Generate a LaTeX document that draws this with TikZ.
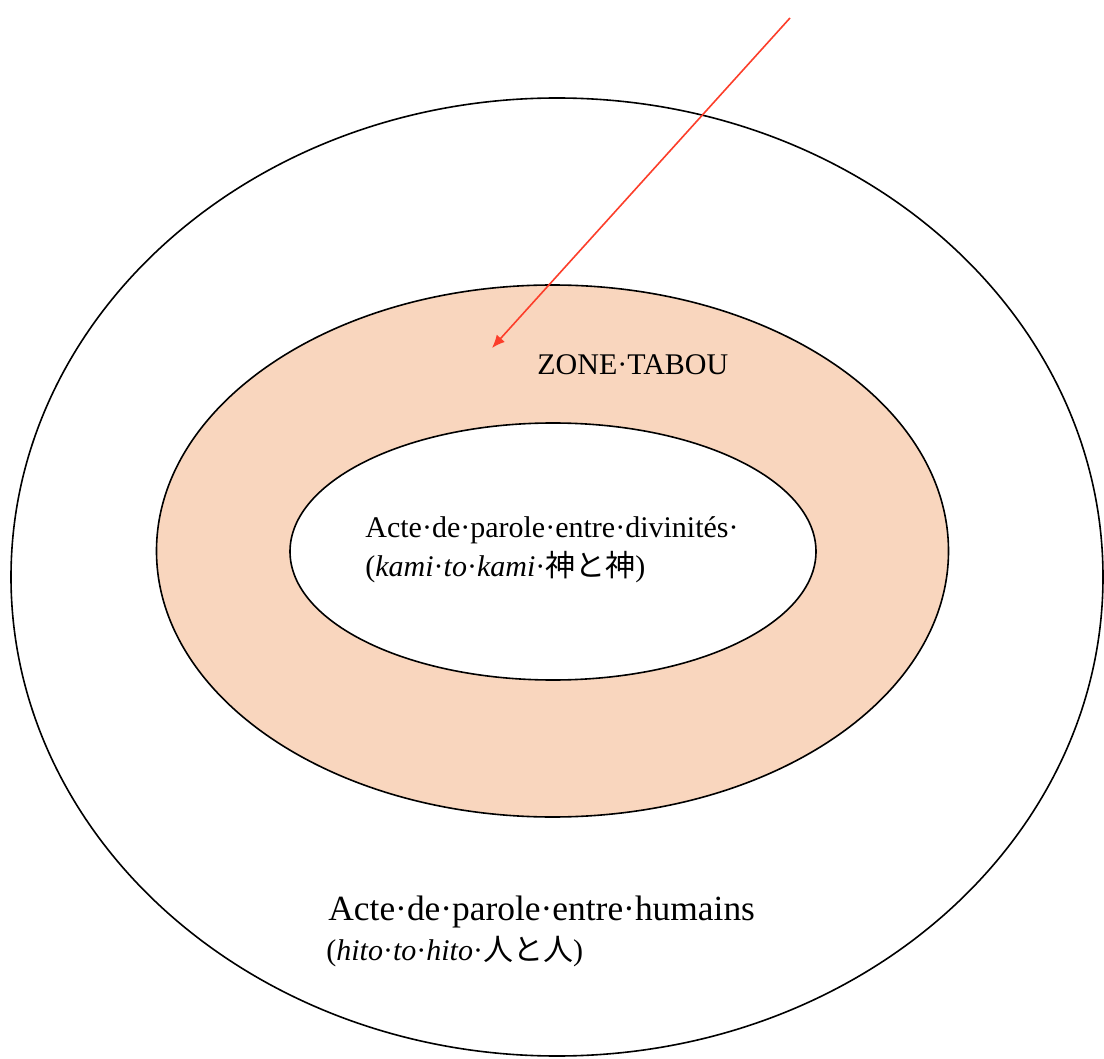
\documentclass[tikz,border=0pt]{standalone}
\usepackage{fontspec}
\setmainfont{Liberation Serif}
\newfontfamily\jpfont{Noto Sans CJK JP}
\usepackage{tikz}
\usetikzlibrary{arrows.meta,shapes.geometric}
\definecolor{taboufill}{RGB}{249,214,190}
\definecolor{arrowred}{RGB}{252,62,42}

\begin{document}
\begin{tikzpicture}[x=0.5pt,y=-0.5pt,>={Latex[length=6.5pt,width=5.5pt]},
  ring/.style={draw,ellipse,line width=0.8pt,inner sep=0pt},
  lbl/.style={anchor=base west,inner sep=0pt,font=\fontsize{15}{18}\selectfont}]
  \useasboundingbox (0,0) rectangle (1104,1059);
  % the three zones
  \node[ring,fill=white,minimum width=546pt,minimum height=479pt] (humains) at (557,577) {};
  \node[ring,fill=taboufill,minimum width=396pt,minimum height=266pt] (tabou) at (552.5,551) {};
  \node[ring,fill=white,minimum width=263pt,minimum height=128.5pt] (divins) at (553,551.5) {};
  % texts
  \node[lbl] (zone) at (537,375) {ZONE·TABOU};
  \node[lbl] (divinsA) at (365,538) {Acte·de·parole·entre·divinités·};
  \node[lbl] (divinsB) at (365,576) {(\textit{kami}·\textit{to}·\textit{kami}·{\jpfont 神と神})};
  \node[lbl,font=\fontsize{17.7}{21}\selectfont] (humainsA) at (328,920) {Acte·de·parole·entre·humains};
  \node[lbl] (humainsB) at (326,960) {(\textit{hito}·\textit{to}·\textit{hito}·{\jpfont 人と人})};
  % arrow pointing at the taboo zone
  \coordinate (from) at (790,18);
  \coordinate (into) at (492,348);
  \draw[->,arrowred,line width=0.8pt] (from) -- (into);
\end{tikzpicture}
\end{document}
